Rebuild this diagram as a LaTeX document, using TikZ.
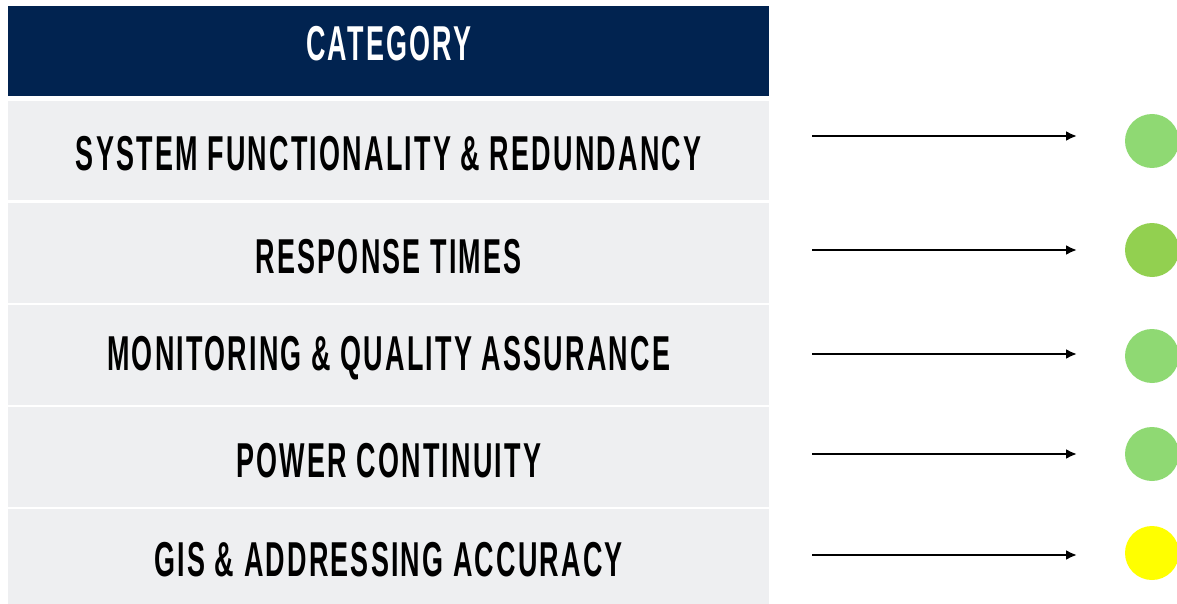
\documentclass[tikz,border=0pt]{standalone}
\usepackage{fontspec}
\setmainfont{Liberation Sans}[FakeStretch=0.55,LetterSpace=4.5]
\usepackage{tikz}
\usetikzlibrary{arrows.meta}
\definecolor{navy}{HTML}{012350}
\definecolor{rowgray}{HTML}{EEEFF1}
\definecolor{okgreen}{HTML}{8FD973}
\definecolor{midgreen}{HTML}{92D050}
\definecolor{warnyellow}{HTML}{FFFF00}

\begin{document}
\begin{tikzpicture}[x=1pt,y=-1pt,
    cell/.style={fill=rowgray,minimum width=761pt,inner sep=0pt,anchor=north west},
    lbl/.style={font=\bfseries\fontsize{49}{50}\selectfont,inner sep=0pt},
    dot/.style={circle,fill=#1,minimum size=54pt,inner sep=0pt},
    arr/.style={line width=2.2pt,-{Latex[length=11pt,width=10pt]}}]
  \useasboundingbox (0,0) rectangle (1177,604);
  \clip (0,0) rectangle (1177,604);

  % Header
  \node[cell,fill=navy,minimum height=90pt] (head) at (8,6) {};
  \node[lbl,text=white] (headtxt) at ([yshift=8pt]head.center) {CATEGORY};

  % Rows, arrows and status dots
  \foreach \i/\top/\h/\txt/\ay/\cy/\col in {
      1/101/99/SYSTEM FUNCTIONALITY \& REDUNDANCY/136/141/okgreen,
      2/203/100/RESPONSE TIMES/250/250/midgreen,
      3/305/100/MONITORING \& QUALITY ASSURANCE/354/356/okgreen,
      4/407/100/POWER CONTINUITY/454/454/okgreen,
      5/509/95/GIS \& ADDRESSING ACCURACY/555/553/warnyellow} {
    \node[cell,minimum height=\h pt] (r\i) at (8,\top) {};
    \node[lbl] (t\i) at ([yshift=-3pt]r\i.center) {\txt};
    \node[dot=\col] (c\i) at (1152,\cy) {};
    \coordinate (s\i) at (812,\ay);
    \coordinate (e\i) at (1077,\ay);
    \draw[arr] (s\i) -- (e\i);
  }
\end{tikzpicture}
\end{document}
